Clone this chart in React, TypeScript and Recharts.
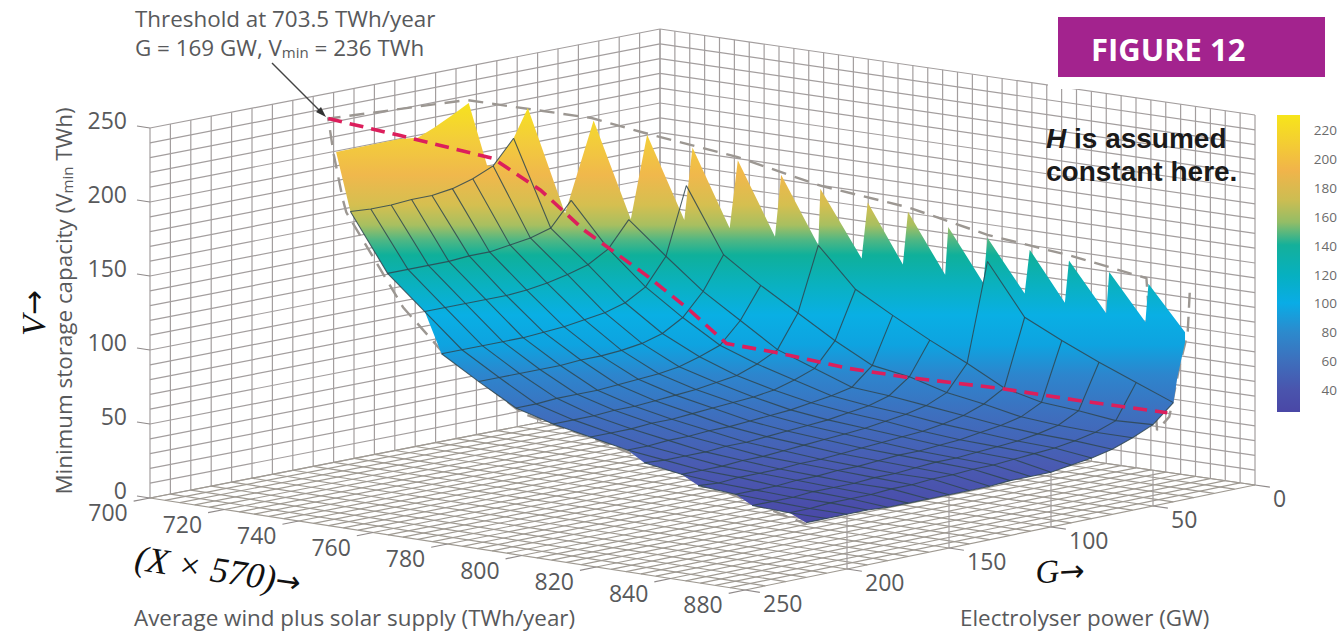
import React from "react";
import { ScatterChart, Scatter, XAxis, YAxis } from "recharts";

// ---- axis ticks ----
const supplyTickLabels = ["700", "720", "740", "760", "780", "800", "820", "840", "880"];
const powerTicks = [250, 200, 150, 100, 50, 0];
const storageTicks = [250, 200, 150, 100, 50, 0];
const barTicks = [220, 200, 180, 160, 140, 120, 100, 80, 60, 40];

// ---- mesh: supply of every row, the highest G of that row (10 GW steps), V along the row ----
const rowSupply = [710, 720, 730, 740, 750, 760, 770, 780, 790, 800, 810, 820, 830, 840, 850, 860];
const rowStartG = [170, 170, 170, 180, 180, 180, 180, 180, 180, 190, 190, 200, 200, 210, 210, 220];
const rowV = [
  [176, 175, 175, 176, 176, 178, 182, 188, 204],
  [138, 138, 138, 138, 139, 139, 141, 143, 147, 163],
  [116, 116, 116, 116, 116, 117, 119, 122, 126, 134, 151],
  [94, 94, 94, 94, 94, 95, 96, 98, 100, 104, 112, 130, 175],
  [79, 79, 79, 79, 79, 80, 80, 81, 83, 87, 95, 110, 132],
  [65, 65, 66, 66, 66, 67, 68, 69, 71, 75, 80, 94, 115],
  [58, 58, 58, 59, 59, 60, 61, 62, 64, 66, 71, 78, 100, 143],
  [53, 53, 53, 54, 54, 55, 56, 57, 58, 60, 64, 69, 85, 117],
  [48, 48, 49, 49, 50, 50, 51, 52, 53, 55, 57, 60, 72, 103],
  [46, 45, 45, 45, 46, 46, 47, 48, 49, 50, 52, 54, 58, 68, 90],
  [42, 42, 42, 43, 43, 44, 45, 46, 47, 48, 50, 52, 55, 61, 78, 144],
  [41, 40, 41, 41, 41, 42, 42, 43, 44, 45, 46, 47, 49, 52, 57, 65, 110],
  [39, 39, 39, 40, 40, 41, 41, 42, 43, 43, 44, 45, 47, 49, 52, 59, 98],
  [38, 38, 38, 39, 39, 39, 40, 40, 41, 42, 42, 43, 44, 45, 47, 50, 57, 87],
  [37, 37, 38, 38, 38, 39, 39, 40, 40, 41, 41, 42, 43, 44, 46, 49, 54, 77],
  [37, 37, 37, 37, 36, 36, 36, 36, 36, 36, 37, 37, 37, 39, 41, 44, 49, 55, 67],
];

// ---- the saw-toothed far edge of the surface ----
const edgeX = [710, 710, 710, 710, 710, 710, 710, 710, 710, 710, 720, 720, 730, 730, 740, 740, 750, 750, 760, 760, 770, 770, 780, 780, 790, 790, 800, 800, 810, 810, 820, 820, 830, 830, 840, 840, 850, 850, 860, 860, 860];
const edgeG = [177, 146, 137, 129, 120, 112, 103, 100, 90, 83, 83, 69, 69, 61, 61, 57, 57, 53, 53, 50, 50, 49, 47, 44, 45, 42.5, 42.5, 41, 42, 40, 40, 37.5, 38.5, 36.5, 36.5, 35, 35.5, 34, 34.3, 34.3, 38];
const edgeV = [218, 218.5, 217, 221.5, 227.7, 233.7, 189, 188, 204, 222.6, 155, 214, 151, 206, 152, 200, 149, 194, 146, 187, 143, 181, 137, 174, 136, 171, 132, 164, 130, 160, 126, 155, 123, 151, 119, 146.5, 116.5, 142, 113, 106, 84];

// ---- dashed feasibility envelope ----
const boundX = [860, 850, 830, 810, 790, 770, 750, 730, 720, 710, 703.5, 705, 708, 710, 728, 740, 765, 785, 812, 860];
const boundG = [48, 35, 35, 40, 42.5, 49, 53, 63, 70, 113, 169, 169, 170, 172, 177, 180, 186, 185, 189, 220];
const boundV = [50.5, 146, 153.6, 162, 174, 183, 196, 208, 216, 236, 236, 212, 183, 176, 120, 96, 65, 54, 40, 36];
const boundRightX = [860, 860, 860, 860, 860, 860];
const boundRightG = [32, 33, 37, 40, 42, 48];
const boundRightV = [139, 112, 91, 71, 58, 50.5];

// ---- red threshold path ----
const redX = [703.5, 710, 710, 720, 730, 750, 760, 770, 780, 800, 810, 830, 850, 860];
const redG = [169, 146, 100, 95, 92, 98, 95, 95, 89, 90, 80, 70, 70, 43];
const redV = [236, 221, 193, 174, 150, 128.6, 108, 89, 85, 82, 77, 74, 73.6, 61];

// ---- colours ----
const surfaceStops: [number, string][] = [
  [100, "#f7e41c"], [140, "#f3cd3a"], [175, "#f0b84c"], [205, "#d5bf50"], [225, "#a8bf60"], [240, "#4fb784"],
  [255, "#0fb09a"], [285, "#0ab1c0"], [315, "#09afe4"], [345, "#0ea3e0"], [375, "#2d85cd"], [415, "#3e6fbe"],
  [465, "#4a5bb2"], [525, "#4a47a6"],
];
const barStops: [number, string][] = [
  [115, "#f7e51a"], [140, "#f4d030"], [170, "#f1b44a"], [200, "#ccbd52"], [222, "#94bd66"], [245, "#14b09a"],
  [275, "#06b0c0"], [303, "#09ace6"], [332, "#2c8acd"], [360, "#3d70bd"], [390, "#4a54ad"], [412, "#4a47a6"],
];

const GRID = "#a39e9e";
const LABEL = "#58595b";
const FONT = "'Open Sans', Lato, sans-serif";
const MATH = "'Liberation Serif', serif";
const ARROW = "'DejaVu Sans', sans-serif";

const project = (x: number, g: number, v: number) => {
  const u = (x - 700) / 160;
  const h = 1 - g / 250;
  return { x: 150 + 595 * u + 510 * h, y: 498 + 92 * u - 99 * h - 6 * u * h - 1.48 * v };
};

const NoMark = () => null;
const path = (key: string, data: { x: number; y: number }[], line: any) => (
  <Scatter key={key} data={data} shape={NoMark} line={line} lineJointType="linear" isAnimationActive={false} legendType="none" />
);
const zipped = (xs: number[], gs: number[], vs: number[]) => xs.map((x, i) => project(x, gs[i], vs[i]));
const box = (x0: number, y0: number, x1: number, y1: number) => [
  { x: x0, y: y0 }, { x: x1, y: y0 }, { x: x1, y: y1 }, { x: x0, y: y1 }, { x: x0, y: y0 },
];

const seq = (n: number) => Array.from({ length: n }, (_, i) => i);
const gridStyle = { stroke: GRID, strokeWidth: 1.2, fill: "none" };
const floorStyle = { stroke: "#9f9a92", strokeWidth: 1.2, fill: "none" };

const gridLines: React.ReactNode[] = [];
seq(26).forEach((i) => {
  const g = i * 10;
  gridLines.push(path(`lw${i}`, [project(700, g, 0), project(700, g, 250)], gridStyle));
  gridLines.push(path(`lh${i}`, [project(700, 250, i * 10), project(700, 0, i * 10)], gridStyle));
  gridLines.push(path(`rh${i}`, [project(700, 0, i * 10), project(860, 0, i * 10)], gridStyle));
  gridLines.push(path(`fg${i}`, [project(700, g, 0), project(860, g, 0)], floorStyle));
});
seq(41).forEach((i) => {
  const x = 700 + i * 4;
  gridLines.push(path(`rw${i}`, [project(x, 0, 0), project(x, 0, 250)], gridStyle));
  gridLines.push(path(`fx${i}`, [project(x, 0, 0), project(x, 250, 0)], floorStyle));
});
[50, 100, 150, 200].forEach((g) => {
  gridLines.push(path(`gv${g}`, [project(860, g, 0), project(860, g, g === 50 ? 24 : 60)], gridStyle));
});

const tickStyle = { stroke: "#8f8a8a", strokeWidth: 1.2, fill: "none" };
const tickLines: React.ReactNode[] = [];
seq(9).forEach((i) => {
  const x = 700 + i * 20;
  tickLines.push(path(`tx${i}`, [project(x, 250, 0), project(x, 258, 0)], tickStyle));
});
powerTicks.forEach((g) => {
  tickLines.push(path(`tg${g}`, [project(860, g, 0), project(864, g, 0)], tickStyle));
});
storageTicks.forEach((v) => {
  tickLines.push(path(`tv${v}`, [project(700, 250, v), project(696.5, 250, v)], tickStyle));
});

// outline of the surface
const rowPoint = (r: number, k: number) => project(rowSupply[r], rowStartG[r] - k * 10, rowV[r][k]);
const lastRow = rowV.length - 1;
const outline = [
  ...zipped(edgeX, edgeG, edgeV),
  ...rowV[lastRow].map((_, k) => rowPoint(lastRow, rowV[lastRow].length - 1 - k)),
  ...seq(lastRow).map((i) => rowPoint(lastRow - 1 - i, 0)),
];

const meshStyle = { stroke: "#2f4650", strokeWidth: 1.1, fill: "none", strokeOpacity: 0.85 };
const meshLines: React.ReactNode[] = [];
rowV.forEach((vals, r) => {
  meshLines.push(path(`mr${r}`, vals.map((_, k) => rowPoint(r, k)), meshStyle));
});
seq(19).forEach((i) => {
  const g = 220 - i * 10;
  const pts: { x: number; y: number }[] = [];
  rowV.forEach((vals, r) => {
    const k = (rowStartG[r] - g) / 10;
    if (k >= 0 && k < vals.length) pts.push(rowPoint(r, k));
  });
  if (pts.length > 1) meshLines.push(path(`mc${g}`, pts, meshStyle));
});

const Label = ({ x, y, size = 23, anchor = "middle", children, fill = LABEL, family = FONT, rotate, weight, style }: any) => (
  <text
    x={x}
    y={y}
    fontSize={size}
    textAnchor={anchor}
    dominantBaseline="central"
    fill={fill}
    fontFamily={family}
    fontWeight={weight}
    style={style}
    transform={rotate ? `rotate(${rotate} ${x} ${y})` : undefined}
  >
    {children}
  </text>
);

export default function App() {
  return (
    <div style={{ position: "absolute", left: 0, top: 0, width: 1338, height: 632, background: "#fff", overflow: "hidden" }}>
      <ScatterChart width={1338} height={632} margin={{ top: 0, right: 0, bottom: 0, left: 0 }}>
        <defs>
          <linearGradient id="surf" gradientUnits="userSpaceOnUse" x1="0" x2="0" y1="100" y2="525">
            {surfaceStops.map(([y, c]) => (
              <stop key={y} offset={(y - 100) / 425} stopColor={c} />
            ))}
          </linearGradient>
          <linearGradient id="bar" gradientUnits="userSpaceOnUse" x1="0" x2="0" y1="115" y2="412">
            {barStops.map(([y, c]) => (
              <stop key={y} offset={(y - 115) / 297} stopColor={c} />
            ))}
          </linearGradient>
        </defs>
        <XAxis type="number" dataKey="x" domain={[0, 1338]} hide allowDataOverflow />
        <YAxis type="number" dataKey="y" domain={[0, 632]} reversed hide allowDataOverflow />

        {gridLines}
        {tickLines}
        {path("mask", box(1048, 0, 1338, 89), { fill: "#fff", stroke: "none" })}
        {path("fig", box(1058, 17, 1325, 77), { fill: "#a3238e", stroke: "none" })}
        {path("cbar", box(1277, 115, 1300, 412), { fill: "url(#bar)", stroke: "none" })}
        {path("bound", zipped(boundX, boundG, boundV), { stroke: "#9c9792", strokeWidth: 2.4, strokeDasharray: "15 9", fill: "none" })}
        {path("boundR", zipped(boundRightX, boundRightG, boundRightV), { stroke: "#9c9792", strokeWidth: 2.4, strokeDasharray: "15 9", fill: "none" })}
        {path("surface", outline, { fill: "url(#surf)", stroke: "none" })}
        {meshLines}
        {path("red", zipped(redX, redG, redV), { stroke: "#dc1f5c", strokeWidth: 3.6, strokeDasharray: "14 8", fill: "none" })}
      </ScatterChart>

      <svg width={1338} height={632} style={{ position: "absolute", left: 0, top: 0 }}>
        <line x1={272} y1={63} x2={322} y2={113} stroke="#444" strokeWidth={1.4} />
        <polygon points="326,117 316,112 321,107" fill="#333" />

        <Label x={135} y={18} anchor="start" size={22.4}>Threshold at 703.5 TWh/year</Label>
        <Label x={135} y={47} anchor="start" size={22.4}>
          G = 169 GW, V<tspan fontSize={15} dy={5}>min</tspan><tspan dy={-5}> = 236 TWh</tspan>
        </Label>

        {storageTicks.map((v) => (
          <Label key={v} x={127} y={project(700, 250, v).y - 8} anchor="end">{v}</Label>
        ))}
        {supplyTickLabels.map((t, i) => {
          const p = project(700 + i * 20, 250, 0);
          return <Label key={t} x={p.x - 42} y={p.y + 14} >{t}</Label>;
        })}
        {powerTicks.map((g) => {
          const p = project(860, g, 0);
          return <Label key={g} x={p.x + 18} y={p.y + 13} anchor="start">{g}</Label>;
        })}
        {barTicks.map((t, i) => (
          <Label key={t} x={1337} y={130 + i * 28.9} anchor="end" size={13.5} fill="#6b6b6b">{t}</Label>
        ))}

        <Label x={63} y={301} size={22.4} rotate={-90}>
          Minimum storage capacity (V<tspan fontSize={15} dy={4}>min</tspan><tspan dy={-4}> TWh)</tspan>
        </Label>
        <Label x={134} y={617} anchor="start" size={22.4}>Average wind plus solar supply (TWh/year)</Label>
        <Label x={960} y={617} anchor="start" size={22.4}>Electrolyser power (GW)</Label>

        <Label x={1091} y={49} anchor="start" size={31} fill="#fff" weight={700}>FIGURE 12</Label>
        <Label x={1046} y={138} anchor="start" size={28} fill="#1a1a1a" family="'Liberation Sans', Arial, sans-serif" weight={700}>
          <tspan fontStyle="italic">H</tspan> is assumed
        </Label>
        <Label x={1046} y={171} anchor="start" size={28} fill="#1a1a1a" family="'Liberation Sans', Arial, sans-serif" weight={700}>
          constant here.
        </Label>

        <Label x={33} y={313} size={34} rotate={-90} fill="#111" family={MATH} style={{ fontStyle: "italic" }}>
          V<tspan fontFamily={ARROW} fontStyle="normal" fontSize={30}>→</tspan>
        </Label>
        <Label x={218} y={570} size={36} rotate={8.5} fill="#111" family={MATH} style={{ fontStyle: "italic" }}>
          (X × 570)<tspan fontFamily={ARROW} fontStyle="normal" fontSize={30}>→</tspan>
        </Label>
        <Label x={1060} y={571} size={33} rotate={-3} fill="#111" family={MATH} style={{ fontStyle: "italic" }}>
          G<tspan fontFamily={ARROW} fontStyle="normal" fontSize={30}>→</tspan>
        </Label>
      </svg>
    </div>
  );
}
